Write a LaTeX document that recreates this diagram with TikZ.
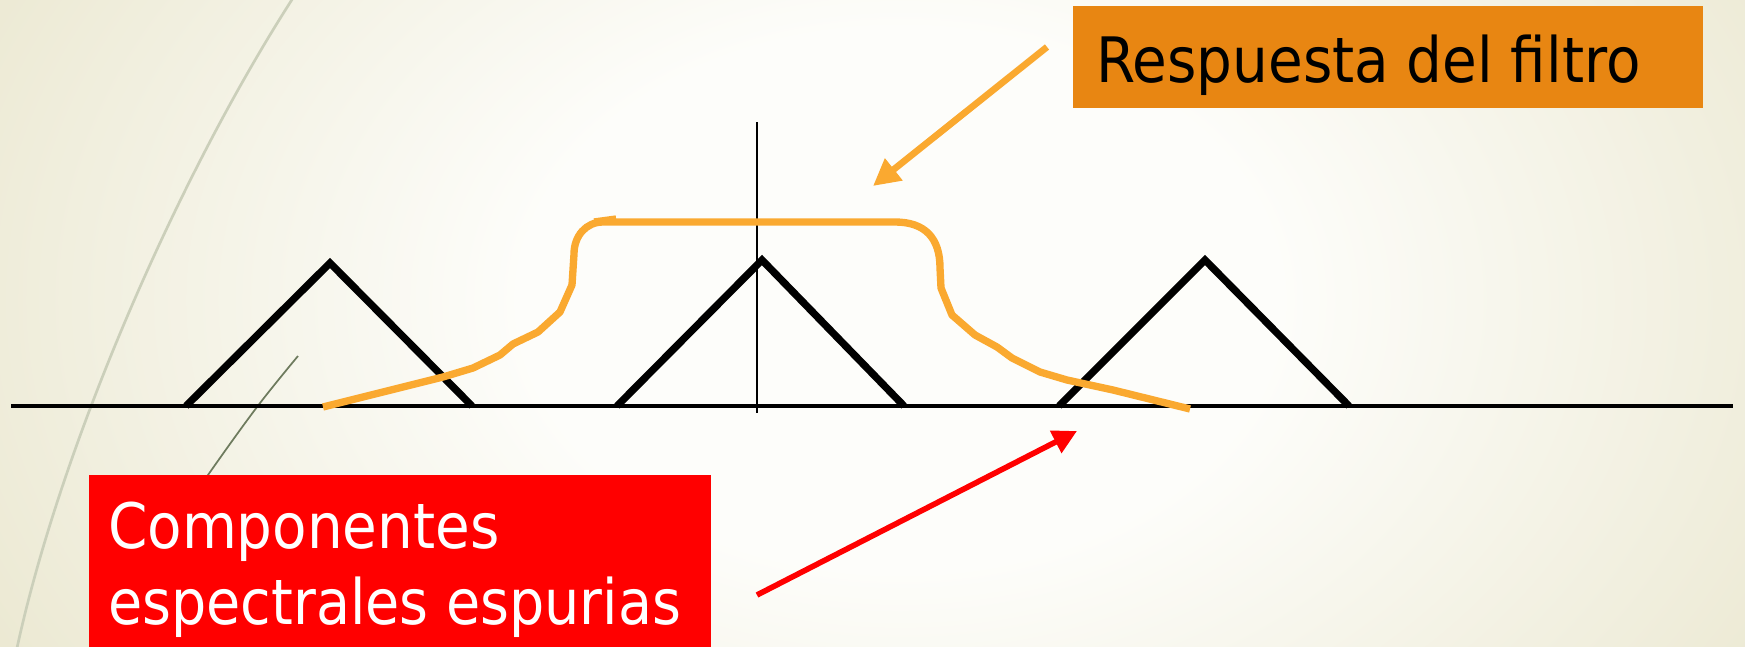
\documentclass[tikz,border=0pt]{standalone}
\usepackage{fontspec}
\setmainfont{DejaVu Sans Condensed}
\usetikzlibrary{arrows.meta}

\definecolor{bgInner}{RGB}{253,253,250}
\definecolor{bgOuter}{RGB}{235,232,209}
\definecolor{arcGrey}{RGB}{203,207,186}
\definecolor{arcDark}{RGB}{110,123,94}
\definecolor{curveOrange}{RGB}{250,169,48}
\definecolor{filtroOrange}{RGB}{232,134,18}

\pgfdeclareradialshading{fondo}{\pgfpoint{0bp}{0bp}}{color(0bp)=(bgInner); color(9bp)=(bgInner); color(25bp)=(bgOuter); color(50bp)=(bgOuter)}

\tikzset{
  spectro/.style={line width=5.5pt, black, line join=miter},
  axisline/.style={line width=3pt, black},
  respuesta/.style={line width=5.5pt, curveOrange, line join=round},
  labelbox/.style={inner sep=0pt, anchor=north west},
  labeltext/.style={inner sep=0pt, anchor=base west, font=\fontsize{47}{57}\selectfont},
}

\begin{document}
\begin{tikzpicture}[x=0.75pt,y=0.75pt,yscale=-1,xscale=1]
\useasboundingbox (0,0) rectangle (1745,646);

%Shape: Background
\begin{scope}
\clip (0,0) rectangle (1745,646);
\shade[shading=fondo] (-150,-450) rectangle (1950,1050);
\end{scope}
%Curve Lines: template arcs
\draw [arcGrey, line width=2pt] (293,-2) .. controls (176,180) and (61,446) .. (17,648);
\draw [arcDark, line width=1.3pt] plot[smooth, tension=0.6] coordinates {(298,356) (257,407) (208,475) (185,510)};

%Straight Lines: frequency axis
\coordinate (ejeIzq) at (11,406);
\coordinate (ejeDer) at (1733,406);
\coordinate (ejeArr) at (757,122);
\coordinate (ejeAba) at (757,413);
\draw [axisline] (ejeIzq) -- (ejeDer);
\draw [black, line width=1.5pt] (ejeArr) -- (ejeAba);

%Shape: spectral triangles
\foreach \nombre/\a/\b/\c/\h in {izq/186/330/472/263, cen/617/762/904/260, der/1059/1205/1349/260} {
  \coordinate (pie1\nombre) at (\a,406);
  \coordinate (pico\nombre) at (\b,\h);
  \coordinate (pie2\nombre) at (\c,406);
  \draw [spectro] (pie1\nombre) -- (pico\nombre) -- (pie2\nombre);
}

%Curve Lines: filter response
\draw [respuesta] (323,407) -- (443,377) -- (473,368) -- (500,355) -- (513,344) -- (538,332) -- (560,312) -- (572,285) -- (574,254)
  .. controls (574,236) and (586,222) .. (603,222) -- (895,222)
  .. controls (925,222) and (940,238) .. (940,268) -- (941,288) -- (952,315) -- (975,335) -- (997,347) -- (1012,358) -- (1040,372) -- (1067,380) -- (1113,390) -- (1190,409);
\draw [curveOrange, line width=4pt] (594,221) -- (616,218);

%Shape: labels
\node (filtroBox) [labelbox, fill=filtroOrange, minimum width=472pt, minimum height=76.5pt] at (1073,6) {};
\node (espurBox) [labelbox, fill=red, minimum width=466pt, minimum height=135pt] at (89,475) {};

% Text Node
\node (filtroText) [labeltext, black] at (1096,82) {Respuesta del filtro};
% Text Node
\node (espurText1) [labeltext, white] at (108,548) {Componentes};
% Text Node
\node (espurText2) [labeltext, white, xscale=0.985] at (108,624) {espectrales espurias};

%Straight Lines: arrows
\coordinate (filtroTail) at (1047,47);
\coordinate (filtroTip) at (873,186);
\draw [curveOrange, line width=5pt, -{Triangle[length=20pt,width=20pt]}] (filtroTail) -- (filtroTip);
\coordinate (espurTail) at (757,595);
\coordinate (espurTip) at (1077,431);
\draw [red, line width=4.2pt, -{Triangle[length=18pt,width=18pt]}] (espurTail) -- (espurTip);

\end{tikzpicture}
\end{document}
